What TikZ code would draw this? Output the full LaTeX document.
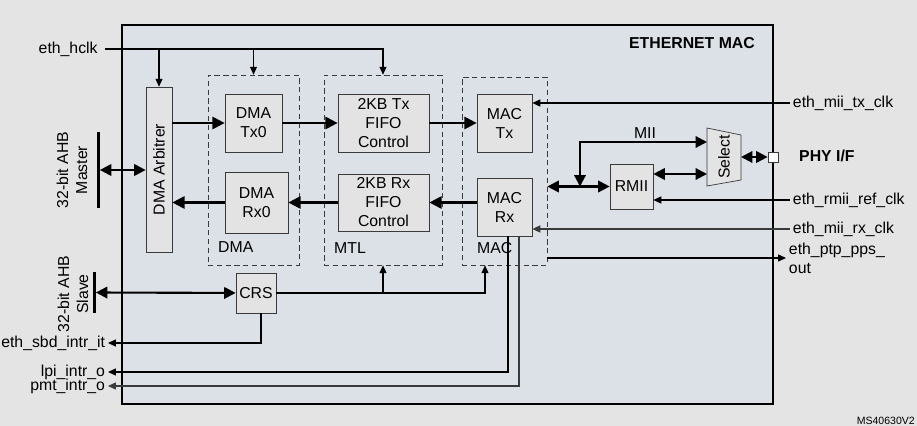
\documentclass[tikz,border=0pt]{standalone}
\usepackage{fontspec}
\setmainfont{Liberation Sans}
\usetikzlibrary{arrows.meta,calc,positioning}
\definecolor{PageGray}{HTML}{E4E4E4}
\definecolor{MacFill}{HTML}{DCE0E7}
\definecolor{BlockFill}{HTML}{E3E3E3}
\definecolor{Edge}{HTML}{3A3A3A}

\begin{document}
\begin{tikzpicture}[x=0.02cm,y=-0.02cm,
    font=\fontsize{9}{10.8}\selectfont,
    block/.style={draw=Edge,fill=BlockFill,inner sep=0pt,align=center},
    area/.style={draw=Edge,dash pattern=on 3pt off 2pt,inner sep=0pt},
    sig/.style={-{Triangle[length=4.5pt,width=4pt]},line width=0.6pt},
    bus/.style={-{Triangle[length=7pt,width=7pt]},line width=1.2pt},
    dbus/.style={{Triangle[length=6.5pt,width=6.5pt]}-{Triangle[length=6.5pt,width=6.5pt]},line width=1.2pt},
    port/.style={inner sep=1.5pt},
    bar/.style={fill=black,inner sep=0pt,minimum width=0.06cm}]
        \useasboundingbox (0,0) rectangle (917,426);
        \fill[PageGray] (0,0) rectangle (917,426);
        \draw[line width=1.2pt,fill=MacFill] (122,25) rectangle (773,404);
        \node[anchor=east,font=\fontsize{9}{10.8}\selectfont\bfseries] (title) at (761,43) {ETHERNET MAC};

        % dashed groups
        \node[area,minimum width=1.82cm,minimum height=3.8cm] (dma) at (253.5,170) {};
        \node[area,minimum width=2.36cm,minimum height=3.8cm] (mtl) at (383,170) {};
        \node[area,minimum width=1.7cm,minimum height=3.76cm] (mac) at (504.5,171) {};
        \node[anchor=west] (dma-lbl) at (212,247) {DMA};
        \node[anchor=west] (mtl-lbl) at (328,248) {MTL};
        \node[anchor=west] (mac-lbl) at (471,248) {MAC};

        % blocks
        \node[block,minimum width=0.52cm,minimum height=3.3cm] (arb) at (159,169.5) {};
        \node[rotate=90] (arb-lbl) at (arb) {DMA Arbitrer};
        \node[block,minimum width=1.14cm,minimum height=1.16cm] (tx0) at (253.5,123) {DMA\\Tx0};
        \node[block,minimum width=1.26cm,minimum height=1.22cm] (rx0) at (256.5,202.5) {DMA\\Rx0};
        \node[block,minimum width=1.82cm,minimum height=1.16cm] (txfifo) at (383.5,123) {2KB Tx\\FIFO\\Control};
        \node[block,minimum width=1.82cm,minimum height=1.14cm] (rxfifo) at (383.5,202.5) {2KB Rx\\FIFO\\Control};
        \node[block,minimum width=1.1cm,minimum height=1.16cm] (mactx) at (504.5,123) {MAC\\Tx};
        \node[block,minimum width=1.1cm,minimum height=1.16cm] (macrx) at (504.5,207) {MAC\\Rx};
        \node[block,minimum width=0.86cm,minimum height=0.9cm] (rmii) at (631.5,186.5) {RMII};
        \node[block,minimum width=0.8cm,minimum height=0.8cm] (crs) at (256,293) {CRS};

        \draw[draw=Edge,fill=BlockFill] (707,128) -- (741,135) -- (741,180) -- (707,186) -- cycle;
        \node[rotate=90] (sel) at (724,157) {Select};
        \coordinate (sel-mii) at (707,142);
        \coordinate (sel-rmii) at (707,174);
        \coordinate (sel-phy) at (741,157);
        \node[draw=Edge,fill=white,inner sep=0pt,minimum size=0.2cm] (phy) at (773,157) {};
        \node[anchor=west,font=\fontsize{9}{10.8}\selectfont\bfseries] (phy-lbl) at (793,156) {PHY I/F};

        % AHB ports
        \node[bar,minimum height=1.52cm] (mst) at (98,170) {};
        \node[bar,minimum height=0.82cm] (slv) at (94,292.5) {};
        \node[rotate=90,align=center] (mst-lbl) at (72,170) {32-bit AHB\\Master};
        \node[rotate=90,align=center] (slv-lbl) at (73,294) {32-bit AHB\\Slave};

        % signal names
        \node[port,anchor=east,inner sep=4pt] (hclk) at (105,49) {eth\_hclk};
        \node[port,anchor=east] (sbd) at (108,343) {eth\_sbd\_intr\_it};
        \node[port,anchor=east] (lpi) at (108,372) {lpi\_intr\_o};
        \node[port,anchor=east] (pmt) at (108,386) {pmt\_intr\_o};
        \node[port,anchor=west] (txclk) at (790,103) {eth\_mii\_tx\_clk};
        \node[port,anchor=west] (refclk) at (790,200) {eth\_rmii\_ref\_clk};
        \node[port,anchor=west] (rxclk) at (790,229) {eth\_mii\_rx\_clk};
        \node[port,anchor=west,align=left] (pps) at (786,258) {eth\_ptp\_pps\_\\out};
        \node (mii-lbl) at (645,133) {MII};

        % data path
        \draw[dbus] (mst) -- (mst -| arb.west);
        \draw[bus] (arb.east |- tx0) -- (tx0.west);
        \draw[bus] (tx0) -- (txfifo);
        \draw[bus] (txfifo) -- (mactx);
        \draw[bus] (macrx.west |- rxfifo) -- (rxfifo.east);
        \draw[bus] (rxfifo) -- (rx0);
        \draw[bus] (rx0.west) -- (rx0 -| arb.east);
        \draw[dbus] (slv) -- (crs);

        \coordinate (jn) at (580,186.5);
        \draw[dbus] (mac.east |- rmii) -- (rmii.west);
        \draw[dbus] (jn) |- (sel-mii);
        \draw[dbus] (rmii.east |- sel-rmii) -- (sel-rmii);
        \draw[dbus] (sel-phy) -- (phy.west);

        % clocks and control
        \draw[sig] (hclk.east) -| (mtl.north);
        \draw[sig] (hclk.east -| arb.north) -- (arb.north);
        \draw[sig] (hclk.east -| dma.north) -- (dma.north);
        \draw[sig] (crs.east) -| ($(mac.south)+(-19.5,0)$);
        \draw[sig] (crs.east -| mtl.south) -- (mtl.south);
        \draw[sig] ([xshift=0.1cm]crs.south) |- (sbd.east);
        \draw[sig] ($(macrx.south)+(3.5,0)$) |- (lpi.east);
        \draw[sig,draw=Edge] ($(macrx.south)+(14.5,0)$) |- (pmt.east);
        \draw[sig] (txclk.west) -- (txclk.west -| mactx.east);
        \draw[sig] (refclk.west) -- (refclk.west -| rmii.east);
        \draw[sig,draw=Edge] (rxclk.west) -- (rxclk.west -| macrx.east);
        \draw[sig] (mac.east |- pps.west) -- (pps.west);

        \node[anchor=south east,inner sep=0.5pt,font=\fontsize{6}{7}\selectfont] (ref) at (916,425.5) {MS40630V2};
\end{tikzpicture}
\end{document}
